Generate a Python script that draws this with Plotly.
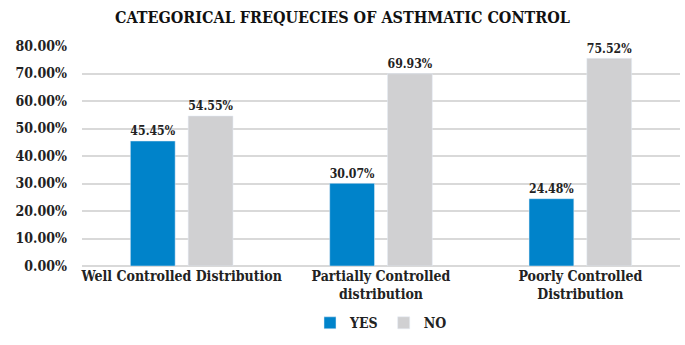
import plotly.graph_objects as go

categories = ["Well Controlled Distribution", "Partially Controlled<br>distribution", "Poorly Controlled<br>Distribution"]
yes_values = [45.45, 30.07, 24.48]
no_values = [54.55, 69.93, 75.52]
tick_vals = [0, 10, 20, 30, 40, 50, 60, 70, 80]
tick_text = [f"{v:.2f}%" for v in tick_vals]

font_family = "DejaVu Serif Condensed"

fig = go.Figure()
fig.add_trace(go.Bar(
    name="YES", x=categories, y=yes_values, marker_color="#0083CA",
    text=[f"{v:.2f}%" for v in yes_values], textposition="outside",
    textfont=dict(family=font_family, size=14, color="#222222"), cliponaxis=False,
))
fig.add_trace(go.Bar(
    name="NO", x=categories, y=no_values, marker_color="#D0D0D2",
    text=[f"{v:.2f}%" for v in no_values], textposition="outside",
    textfont=dict(family=font_family, size=14, color="#222222"), cliponaxis=False,
))

fig.update_layout(
    width=685, height=345,
    margin=dict(l=82, r=5, t=46, b=79, autoexpand=False),
    paper_bgcolor="white", plot_bgcolor="white",
    font=dict(family=font_family, size=14, color="#222222"),
    title=dict(text="<b>CATEGORICAL FREQUECIES OF ASTHMATIC CONTROL</b>",
               x=0.5, xanchor="center", y=0.95, yanchor="middle",
               font=dict(family=font_family, size=16, color="#111111")),
    barmode="group", bargap=0.42, bargroupgap=0.225,
    showlegend=True,
    legend=dict(orientation="h", x=0.5, xanchor="center", y=-0.26, yanchor="middle",
                font=dict(family=font_family, size=14, color="#222222"),
                itemwidth=30, traceorder="normal"),
)
fig.update_yaxes(range=[0, 80], tickvals=tick_vals, ticktext=[f"<b>{t}</b>" for t in tick_text],
                 showgrid=True, gridcolor="#D9D9D9", gridwidth=1.5, zeroline=True,
                 zerolinecolor="#D9D9D9", zerolinewidth=1.5, ticks="", ticklabelstandoff=14,
                 tickfont=dict(family=font_family, size=14, color="#222222"))
fig.update_xaxes(tickvals=categories, ticktext=[f"<b>{c}</b>" for c in categories],
                 showline=False, ticks="",
                 tickfont=dict(family=font_family, size=14, color="#222222"))
fig.for_each_trace(lambda t: t.update(name=f"<b>{t.name}</b>"))
fig.update_traces(texttemplate="<b>%{text}</b>")

fig.write_html("out.html")
